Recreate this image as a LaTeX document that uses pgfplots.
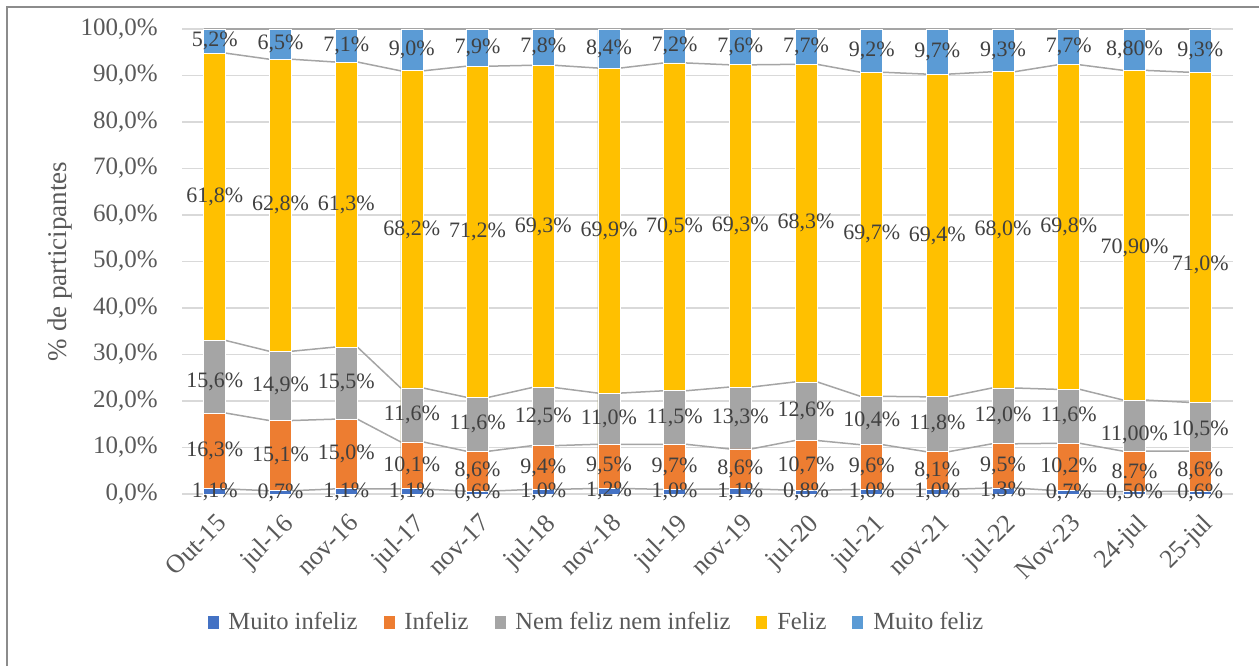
\documentclass[border=0pt]{standalone}
\usepackage{pgfplots}
\pgfplotsset{compat=1.18}
\usepackage{pgfplotstable}
\usepackage{fontspec}
\setmainfont{Liberation Serif}

\definecolor{cMI}{HTML}{4472C4}
\definecolor{cIN}{HTML}{ED7D31}
\definecolor{cNN}{HTML}{A5A5A5}
\definecolor{cFE}{HTML}{FFC000}
\definecolor{cMF}{HTML}{5B9BD5}
\definecolor{gridc}{HTML}{D9D9D9}
\definecolor{serline}{HTML}{A5A5A5}
\definecolor{ticktext}{HTML}{595959}
\definecolor{labtext}{HTML}{404040}
\definecolor{framec}{HTML}{8C8C8C}

% cumulative tops c1..c5, label texts (without the percent sign), manual label offsets
\pgfplotstableread{
x  lab    c1  c2   c3   c4   c5   tmi  tin  tnn   tfe   tmf  dnn  dfe
0  Out-15 1.1 17.4 33.0 94.8 100  1,1  16,3 15,6  61,8  5,2  -1   0
1  jul-16 0.7 15.8 30.7 93.5 100  0,7  15,1 14,9  62,8  6,5  0    0
2  nov-16 1.1 16.1 31.6 92.9 100  1,1  15,0 15,5  61,3  7,1  0    0
3  jul-17 1.1 11.2 22.8 91.0 100  1,1  10,1 11,6  68,2  9,0  0    0
4  nov-17 0.6 9.2  20.8 92.0 100  0,6  8,6  11,6  71,2  7,9  0    0
5  jul-18 1.0 10.4 22.9 92.2 100  1,0  9,4  12,5  69,3  7,8  0    0
6  nov-18 1.2 10.7 21.7 91.6 100  1,2  9,5  11,0  69,9  8,4  0    0
7  jul-19 1.0 10.7 22.2 92.7 100  1,0  9,7  11,5  70,5  7,2  0    0
8  nov-19 1.1 9.7  23.0 92.3 100  1,1  8,6  13,3  69,3  7,6  0    0
9  jul-20 0.8 11.5 24.1 92.4 100  0,8  10,7 12,6  68,3  7,7  0    0
10 jul-21 1.0 10.6 21.0 90.7 100  1,0  9,6  10,4  69,7  9,2  0    0
11 nov-21 1.0 9.1  20.9 90.3 100  1,0  8,1  11,8  69,4  9,7  0    0
12 jul-22 1.3 10.8 22.8 90.8 100  1,3  9,5  12,0  68,0  9,3  0    0
13 Nov-23 0.7 10.9 22.5 92.3 100  0,7  10,2 11,6  69,8  7,7  0    0
14 24-jul 0.5 9.2  20.2 91.1 100  0,50 8.7  11,00 70,90 8,80 -2   -2.7
15 25-jul 0.6 9.2  19.7 90.7 100  0,6  8,6  10,5  71,0  9,3  -0.6 -6
}\data

% series lines: bar edges (half bar width 0.17)
\pgfplotstableread{
x      c1  c2   c3   c4   c5
-0.17  1.1 17.4 33.0 94.8 100
0.17   1.1 17.4 33.0 94.8 100
0.83   0.7 15.8 30.7 93.5 100
1.17   0.7 15.8 30.7 93.5 100
1.83   1.1 16.1 31.6 92.9 100
2.17   1.1 16.1 31.6 92.9 100
2.83   1.1 11.2 22.8 91.0 100
3.17   1.1 11.2 22.8 91.0 100
3.83   0.6 9.2  20.8 92.0 100
4.17   0.6 9.2  20.8 92.0 100
4.83   1.0 10.4 22.9 92.2 100
5.17   1.0 10.4 22.9 92.2 100
5.83   1.2 10.7 21.7 91.6 100
6.17   1.2 10.7 21.7 91.6 100
6.83   1.0 10.7 22.2 92.7 100
7.17   1.0 10.7 22.2 92.7 100
7.83   1.1 9.7  23.0 92.3 100
8.17   1.1 9.7  23.0 92.3 100
8.83   0.8 11.5 24.1 92.4 100
9.17   0.8 11.5 24.1 92.4 100
9.83   1.0 10.6 21.0 90.7 100
10.17  1.0 10.6 21.0 90.7 100
10.83  1.0 9.1  20.9 90.3 100
11.17  1.0 9.1  20.9 90.3 100
11.83  1.3 10.8 22.8 90.8 100
12.17  1.3 10.8 22.8 90.8 100
12.83  0.7 10.9 22.5 92.3 100
13.17  0.7 10.9 22.5 92.3 100
13.83  0.5 9.2  20.2 91.1 100
14.17  0.5 9.2  20.2 91.1 100
14.83  0.6 9.2  19.7 90.7 100
15.17  0.6 9.2  19.7 90.7 100
}\lines

\pgfplotsset{
  segbar/.style={ybar, bar width=11pt, bar shift=0pt, draw=white, line width=0.4pt, forget plot},
  seglab/.style={draw=none, forget plot, point meta=explicit symbolic,
    nodes near coords={\pgfplotspointmeta\%},
    every node near coord/.append style={anchor=center, inner sep=0pt, text=labtext,
      font=\fontsize{11}{13}\selectfont}},
  serl/.style={serline, line width=0.75pt, forget plot},
}

\begin{document}
\begin{tikzpicture}
\useasboundingbox (0,0) rectangle (629.5pt,333pt);
\begin{axis}[
  at={(91pt,86pt)}, anchor=south west,
  scale only axis, width=525.5pt, height=232.5pt,
  xmin=-0.5, xmax=15.5, ymin=0, ymax=100,
  clip=false,
  axis line style={draw=none},
  tick style={draw=none},
  ymajorgrids, grid style={gridc, line width=0.75pt},
  ytick={0,10,...,100},
  xtick={0,...,15},
  xticklabels from table={\data}{lab},
  /pgf/number format/assume math mode=true,
  yticklabel={\pgfmathprintnumber[fixed,fixed zerofill,precision=1,use comma]{\tick}\%},
  yticklabel style={font=\fontsize{12.5}{15}\selectfont, text=ticktext, inner sep=0pt, xshift=-12pt},
  xticklabel style={font=\fontsize{13}{15}\selectfont, text=ticktext, inner sep=0pt,
    xshift=0.5pt, yshift=-9pt, rotate=45, anchor=north east},
  ylabel={\% de participantes},
  ylabel style={at={(axis description cs:-0.116,0.5)}, anchor=center,
    font=\fontsize{13.5}{16}\selectfont, text=ticktext},
  legend columns=5,
  legend style={at={(0.024,-0.277)}, anchor=west, draw=none, inner sep=0pt,
    font=\fontsize{12.3}{14}\selectfont, text=ticktext,
    /tikz/every odd column/.append style={column sep=3pt},
    /tikz/every even column/.append style={column sep=11pt}},
  legend entries={Muito infeliz, Infeliz, Nem feliz nem infeliz, Feliz, Muito feliz},
]
\addlegendimage{legend image code/.code={\fill[cMI] (0pt,-3pt) rectangle (5pt,3pt);}}
\addlegendimage{legend image code/.code={\fill[cIN] (0pt,-3pt) rectangle (5pt,3pt);}}
\addlegendimage{legend image code/.code={\fill[cNN] (0pt,-3pt) rectangle (5pt,3pt);}}
\addlegendimage{legend image code/.code={\fill[cFE] (0pt,-3pt) rectangle (5pt,3pt);}}
\addlegendimage{legend image code/.code={\fill[cMF] (0pt,-3pt) rectangle (5pt,3pt);}}

% series lines (behind the bars)
\addplot[serl] table[x=x, y=c1] {\lines};
\addplot[serl] table[x=x, y=c2] {\lines};
\addplot[serl] table[x=x, y=c3] {\lines};
\addplot[serl] table[x=x, y=c4] {\lines};
\addplot[serl] table[x=x, y=c5] {\lines};

% stacked segments, drawn from the top down
\addplot[segbar, fill=cMF] table[x=x, y=c5] {\data};
\addplot[segbar, fill=cFE] table[x=x, y=c4] {\data};
\addplot[segbar, fill=cNN] table[x=x, y=c3] {\data};
\addplot[segbar, fill=cIN] table[x=x, y=c2] {\data};
\addplot[segbar, fill=cMI] table[x=x, y=c1] {\data};

% data labels
\addplot[seglab] table[x=x, y expr=\thisrow{c1}/2, meta=tmi] {\data};
\addplot[seglab] table[x=x, y expr=(\thisrow{c1}+\thisrow{c2})/2, meta=tin] {\data};
\addplot[seglab] table[x=x, y expr=(\thisrow{c2}+\thisrow{c3})/2+\thisrow{dnn}, meta=tnn] {\data};
\addplot[seglab] table[x=x, y expr=(\thisrow{c3}+\thisrow{c4})/2+\thisrow{dfe}, meta=tfe] {\data};
\addplot[seglab] table[x=x, y expr=(\thisrow{c4}+\thisrow{c5})/2, meta=tmf] {\data};
\end{axis}
\draw[framec, line width=0.75pt] (3.5pt,0) -- (3.5pt,329.5pt) -- (629.5pt,329.5pt);
\end{tikzpicture}
\end{document}
